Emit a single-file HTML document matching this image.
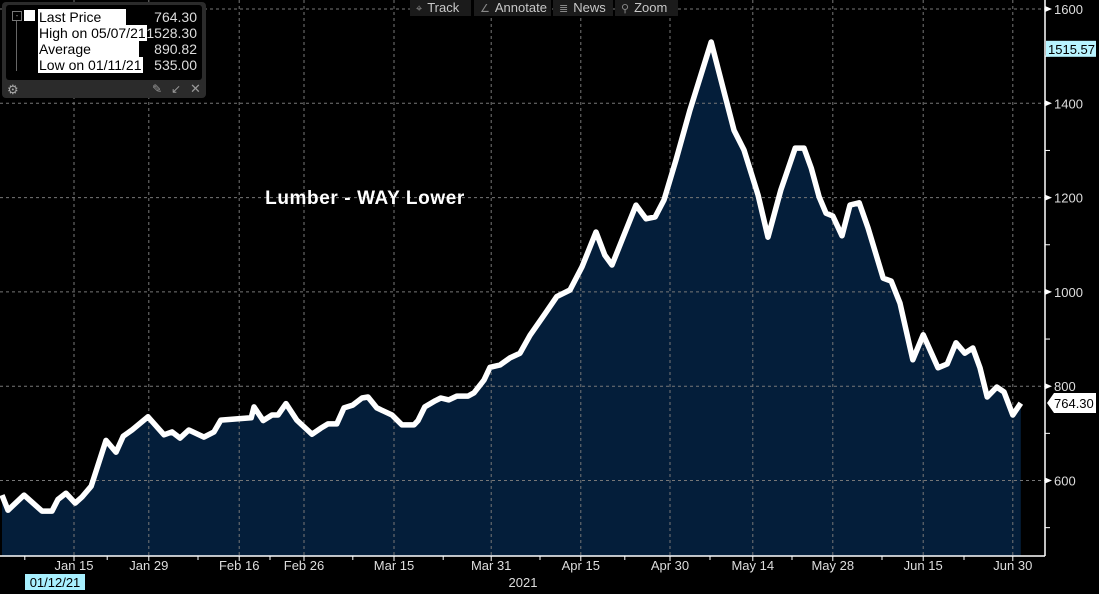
<!DOCTYPE html>
<html><head><meta charset="utf-8"><style>
html,body{margin:0;padding:0;background:#000;width:1099px;height:594px;overflow:hidden;font-family:"Liberation Sans",sans-serif}
#wrap{position:relative;width:1099px;height:594px}
svg{position:absolute;left:0;top:0}
.tb{position:absolute;top:0;height:16px;background:#1b1b1b;color:#c8c8c8;font-size:13px;line-height:15px;box-sizing:border-box;padding-left:6px}
.tb span{color:#888;margin-right:5px;font-size:11px}
#legend{position:absolute;left:2px;top:2px;width:204px;height:96px;background:#2b2b2b;border-radius:4px}
#legin{position:absolute;left:4px;top:3px;width:196px;height:75px;background:#000;border-radius:3px}
.row{position:absolute;left:32px;height:16px;font-size:14px;line-height:16px}
.lab{background:#fff;color:#000;padding:0 1px}
.val{position:absolute;left:136px;width:55px;text-align:right;color:#ddd;font-size:14px;line-height:16px}
</style></head><body>
<div id="wrap">
<svg id="chart" width="1099" height="594"></svg>

<div class="tb" style="left:410px;width:61px"><span>⌖</span>Track</div>
<div class="tb" style="left:474px;width:77px"><span>∠</span>Annotate</div>
<div class="tb" style="left:553px;width:60px"><span>≣</span>News</div>
<div class="tb" style="left:615px;width:63px"><span>⚲</span>Zoom</div>

<div id="legend">
 <div id="legin">
  <div style="position:absolute;left:6px;top:6px;width:8px;height:8px;border:1px solid #777;font-size:8px;line-height:8px;color:#999;text-align:center">-</div>
  <div style="position:absolute;left:18px;top:5px;width:11px;height:11px;background:#fff"></div>
  <div style="position:absolute;left:10px;top:16px;width:1px;height:50px;background:#666"></div>
  <div class="row" style="top:4px"><span class="lab">Last Price&nbsp;&nbsp;&nbsp;&nbsp;&nbsp;&nbsp;</span></div>
  <div class="val" style="top:4px">764.30</div>
  <div class="row" style="top:20px"><span class="lab">High on 05/07/21</span></div>
  <div class="val" style="top:20px">1528.30</div>
  <div class="row" style="top:36px"><span class="lab">Average&nbsp;&nbsp;&nbsp;&nbsp;&nbsp;&nbsp;&nbsp;&nbsp;&nbsp;&nbsp;&nbsp;&nbsp;</span></div>
  <div class="val" style="top:36px">890.82</div>
  <div class="row" style="top:52px"><span class="lab">Low on 01/11/21</span></div>
  <div class="val" style="top:52px">535.00</div>
 </div>
 <div style="position:absolute;left:5px;top:80px;color:#aaa;font-size:13px">⚙</div>
 <div style="position:absolute;left:150px;top:80px;color:#999;font-size:12px">✎</div>
 <div style="position:absolute;left:169px;top:80px;color:#999;font-size:12px">↙</div>
 <div style="position:absolute;left:188px;top:79px;color:#999;font-size:13px">✕</div>
</div>
</div>
<script>
const sessions=[0.25,1,3,5.25,6.5,7.25,8.25,9.4,10.25,11.4,13.25,14.5,15.4,16.5,18.5,20.5,21.5,22.5,23.6,25.5,26.75,27.6,31.4,31.75,32.9,34,34.75,35.75,37.1,39,40.1,41,42.1,43,44.1,45.25,46,47.1,49,50.25,51.75,52.25,53.1,54.4,55.1,56.1,57.1,58.5,59.25,60.5,61.25,62.5,63.75,65,66.25,68.1,69.6,71.25,72.75,74.5,75.6,76.5,77.75,79.5,80.75,81.9,83,84.5,86.25,88.9,90.6,91.75,93,94.75,96,97.6,99.4,100.5,101.4,102.4,103.25,104.1,105.25,106.25,107.4,108.5,110.4,111.4,112.5,114.1,115.4,117.25,118.4,119.5,120.6,121.6,122.5,123.4,124.6,125.5,126.6,127.6];
const prices=[569,537,569,535,535,560,573,552,565,588,685,660,694,707,735,697,703,690,707,692,703,728,733,756,727,739,739,763,728,698,711,720,720,754,760,775,777,754,739,718,718,727,756,769,775,771,779,779,786,813,840,845,860,870,908,953,990,1004,1053,1127,1078,1057,1110,1184,1155,1159,1195,1280,1386,1530,1418,1343,1301,1206,1116,1216,1305,1305,1263,1201,1167,1161,1119,1184,1189,1136,1029,1023,976,856,909,839,847,892,870,881,839,777,798,788,739,764];
const xTickLabels=["Jan 15","Jan 29","Feb 16","Feb 26","Mar 15","Mar 31","Apr 15","Apr 30","May 14","May 28","Jun 15","Jun 30"];
const xTickPos=[9.25,18.6,29.9,38,49.25,61.4,72.6,83.75,94.1,104.1,115.4,126.6];
const xMinor=[3.1,13.4,24.75,33.75,44.1,55.4,67.5,78.1,88.75,99,110.25,120.5];
const yTicks=[600,800,1000,1200,1400,1600];
const yMinor=[500,700,900,1100,1300,1500];
const lastPrice=764.30, markerValue=1515.57;

const NS="http://www.w3.org/2000/svg";
const svg=document.getElementById('chart');
const axisX=1045, bottom=556;
function xs(d){return d*8;}
function ys(v){return 9+(1600-v)*0.4715;}
function mk(tag,attrs,parent){const e=document.createElementNS(NS,tag);for(const k in attrs)e.setAttribute(k,attrs[k]);(parent||svg).appendChild(e);return e;}

let pts=sessions.map((s,i)=>xs(s).toFixed(1)+','+ys(prices[i]).toFixed(1));
const area=mk('polygon',{points:xs(sessions[0])+','+bottom+' '+pts.join(' ')+' '+xs(sessions[sessions.length-1])+','+bottom,fill:'#041e3a'});


yTicks.forEach(v=>{const g=mk('line',{x1:0,x2:axisX,y1:ys(v),y2:ys(v),stroke:'#777','stroke-dasharray':'3,3','stroke-width':1});

});
xTickPos.forEach(d=>{const g=mk('line',{x1:xs(d),x2:xs(d),y1:0,y2:bottom,stroke:'#777','stroke-dasharray':'3,3','stroke-width':1});

});
const line=mk('polyline',{points:pts.join(' '),fill:'none',stroke:'#fff','stroke-width':5.5,'stroke-linejoin':'round'});


const ya=mk('line',{x1:axisX,x2:axisX,y1:0,y2:bottom,stroke:'#fff','stroke-width':1.5});


const xa=mk('line',{x1:0,x2:axisX,y1:bottom,y2:bottom,stroke:'#fff','stroke-width':1.5});


yTicks.forEach(v=>{const y=ys(v);
 mk('polygon',{points:(axisX)+','+(y-3)+' '+(axisX+7)+','+y+' '+axisX+','+(y+3),fill:'#fff'});
 const t=mk('text',{x:axisX+9,y:y+5,fill:'#ddd','font-size':13,'font-family':'Liberation Sans'});t.textContent=v;
 
 });
yMinor.forEach(v=>{mk('line',{x1:axisX,x2:axisX+5,y1:ys(v),y2:ys(v),stroke:'#fff'});});
xTickPos.forEach((d,i)=>{mk('line',{x1:xs(d),x2:xs(d),y1:bottom,y2:bottom+5,stroke:'#fff'});
 const t=mk('text',{x:xs(d),y:570,fill:'#ddd','font-size':13,'text-anchor':'middle','font-family':'Liberation Sans'});t.textContent=xTickLabels[i];
 
 });
xMinor.forEach(d=>{mk('line',{x1:xs(d),x2:xs(d),y1:bottom,y2:bottom+4,stroke:'#fff'});});
const yr=mk('text',{x:523,y:587,fill:'#ddd','font-size':13,'text-anchor':'middle','font-family':'Liberation Sans'});yr.textContent='2021';


mk('rect',{x:25,y:574,width:60,height:16,fill:'#a8f0ff'});
const sd=mk('text',{x:55,y:587,fill:'#000','font-size':13,'text-anchor':'middle','font-family':'Liberation Sans'});sd.textContent='01/12/21';


const my=ys(markerValue);
mk('rect',{x:axisX+1,y:my-8,width:50,height:16,fill:'#b8f4ff'});
const mt=mk('text',{x:axisX+3,y:my+5,fill:'#000','font-size':13,'font-family':'Liberation Sans'});mt.textContent=markerValue.toFixed(2);


const ly=ys(lastPrice);
mk('polygon',{points:(axisX+2)+','+ly+' '+(axisX+9)+','+(ly-10)+' '+(axisX+51)+','+(ly-10)+' '+(axisX+51)+','+(ly+10)+' '+(axisX+9)+','+(ly+10),fill:'#fff'});
const lt=mk('text',{x:axisX+9,y:ly+5,fill:'#000','font-size':13,'font-family':'Liberation Sans'});lt.textContent=lastPrice.toFixed(2);


const tt=mk('text',{x:365,y:204,fill:'#fff','font-size':19,'font-weight':'bold','text-anchor':'middle','font-family':'Liberation Sans','letter-spacing':'0.6'});tt.textContent='Lumber - WAY Lower';


</script>
</body></html>
